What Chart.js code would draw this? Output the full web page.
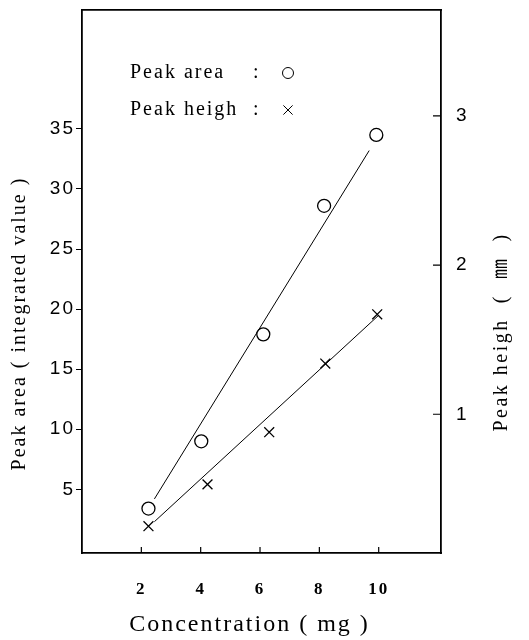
<!DOCTYPE html>
<html>
<head>
<meta charset="utf-8">
<script src="https://cdn.jsdelivr.net/npm/chart.js@4.4.1/dist/chart.umd.min.js"></script>
<style>
  body { margin: 0; background: #fff; }
  #wrap { width: 529px; height: 640px; }
</style>
</head>
<body>
<div id="wrap"><canvas id="peakChart"></canvas></div>
<script>
// concentration (mg) and measured values
var concArea = [2.24, 4.02, 6.11, 8.16, 9.92];
var peakArea = [3.4, 9.0, 17.9, 28.6, 34.5];
var concHeigh = [2.24, 4.23, 6.31, 8.2, 9.95];
var peakHeigh = [0.25, 0.53, 0.88, 1.34, 1.67];

// drawn regression lines (end points)
var areaFitX = [2.44, 9.68];
var areaFitY = [4.2, 33.2];
var heighFitX = [2.44, 9.98];
var heighFitY = [0.28, 1.66];

// tick labels
var xTicks = [2, 4, 6, 8, 10];
var areaTicks = [5, 10, 15, 20, 25, 30, 35];
var heighTicks = [1, 2, 3];

var serif = "'Liberation Serif', 'DejaVu Serif', 'Noto Sans CJK JP', serif";
var sans = "'Liberation Sans', 'DejaVu Sans', sans-serif";

function pts(xs, ys) {
    return xs.map(function (x, i) { return { x: x, y: ys[i] }; });
}

var data = {
    datasets: [
        {
            label: 'Peak area',
            data: pts(concArea, peakArea),
            yAxisID: 'y',
            showLine: false,
            pointStyle: 'circle',
            pointRadius: 6.5,
            pointBorderWidth: 1.3,
            pointBorderColor: '#000',
            pointBackgroundColor: '#fff'
        },
        {
            label: 'area fit',
            data: pts(areaFitX, areaFitY),
            yAxisID: 'y',
            borderColor: '#000',
            borderWidth: 1,
            pointRadius: 0
        },
        {
            label: 'Peak heigh',
            data: pts(concHeigh, peakHeigh),
            yAxisID: 'y1',
            showLine: false,
            pointStyle: 'crossRot',
            pointRadius: 7,
            pointBorderWidth: 1.3,
            pointBorderColor: '#000'
        },
        {
            label: 'heigh fit',
            data: pts(heighFitX, heighFitY),
            yAxisID: 'y1',
            borderColor: '#000',
            borderWidth: 1,
            pointRadius: 0
        }
    ]
};

// typewriter-like spacing for all the text of the figure
var spacing = {
    id: 'spacing',
    beforeDraw: function (chart) { chart.ctx.letterSpacing = '2px'; },
    afterDraw: function (chart) { chart.ctx.letterSpacing = '0px'; }
};

// legend written inside the plot: "Peak area  :  o"
var innerLegend = {
    id: 'innerLegend',
    afterDatasetsDraw: function (chart) {
        var ctx = chart.ctx;
        var rows = [0, 2];
        ctx.save();
        ctx.strokeStyle = '#000';
        ctx.font = '20px ' + serif;
        ctx.textBaseline = 'middle';
        rows.forEach(function (di, i) {
            var ds = chart.data.datasets[di];
            var y = 73 + i * 37;
            ctx.fillStyle = '#000';
            ctx.fillText(ds.label, 130, y);
            ctx.fillText(':', 253, y);
            ctx.fillStyle = '#fff';
            Chart.helpers.drawPoint(ctx, {
                pointStyle: ds.pointStyle,
                radius: ds.pointStyle === 'circle' ? 5.5 : 6.5,
                rotation: 0,
                borderWidth: 1.3
            }, 288, y);
        });
        ctx.restore();
    }
};

// short ticks pointing into the plot (bottom and right axes) and the right title
var rightSide = {
    id: 'rightSide',
    afterDraw: function (chart) {
        var ctx = chart.ctx;
        var x = chart.scales.x, y1 = chart.scales.y1, area = chart.chartArea;
        ctx.save();
        ctx.strokeStyle = '#000';
        ctx.lineWidth = 1.2;
        ctx.beginPath();
        xTicks.forEach(function (v) {
            var px = x.getPixelForValue(v);
            ctx.moveTo(px, area.bottom);
            ctx.lineTo(px, area.bottom - 6);
        });
        heighTicks.forEach(function (v) {
            var py = y1.getPixelForValue(v);
            ctx.moveTo(area.right, py);
            ctx.lineTo(area.right - 8, py);
        });
        ctx.stroke();
        // right axis title reads bottom to top like the left one
        ctx.translate(502, 332);
        ctx.rotate(-Math.PI / 2);
        ctx.fillStyle = '#000';
        ctx.letterSpacing = '2.5px';
        ctx.font = '20px ' + serif;
        ctx.textAlign = 'center';
        ctx.textBaseline = 'middle';
        ctx.fillText('Peak heigh  (  ㎜  )', 0, 0);
        ctx.restore();
    }
};

function noPad(s) { s.paddingTop = 0; s.paddingBottom = 0; }

var opciones = {
    responsive: true,
    maintainAspectRatio: false,
    animation: false,
    layout: { padding: 0 },
    plugins: {
        legend: { display: false },
        tooltip: { enabled: false }
    },
    scales: {
        x: {
            type: 'linear',
            position: 'bottom',
            min: 0,
            max: 12.1,
            afterBuildTicks: function (s) { s.ticks = xTicks.map(function (v) { return { value: v }; }); },
            afterFit: function (s) { s.height = 87; s.paddingLeft = 0; s.paddingRight = 0; },
            grid: { drawOnChartArea: false, drawTicks: false },
            border: { color: '#000', width: 1.8 },
            ticks: { color: '#000', font: { family: serif, size: 17, weight: 'bold' }, padding: 26, maxRotation: 0 },
            title: {
                display: true,
                text: 'Concentration ( mg )   ',
                color: '#000',
                font: { family: serif, size: 24 },
                padding: { top: 0, bottom: 1 }
            }
        },
        xTop: {
            type: 'linear',
            position: 'top',
            afterFit: function (s) { s.height = 10; },
            grid: { drawOnChartArea: false, drawTicks: false },
            border: { color: '#000', width: 1.8 },
            ticks: { display: false }
        },
        y: {
            type: 'linear',
            position: 'left',
            min: -0.3,
            max: 44.9,
            afterBuildTicks: function (s) { s.ticks = areaTicks.map(function (v) { return { value: v }; }); },
            afterFit: function (s) { s.width = 82; noPad(s); },
            grid: { drawOnChartArea: false, tickLength: 6, color: '#000' },
            border: { color: '#000', width: 1.8 },
            ticks: { color: '#000', font: { family: sans, size: 19 }, padding: 1 },
            title: {
                display: true,
                text: 'Peak area ( integrated value )            ',
                color: '#000',
                font: { family: serif, size: 20 },
                padding: { top: 8, bottom: 0 }
            }
        },
        y1: {
            type: 'linear',
            position: 'right',
            min: 0.07,
            max: 3.71,
            afterBuildTicks: function (s) { s.ticks = heighTicks.map(function (v) { return { value: v }; }); },
            afterFit: function (s) { s.width = 88; noPad(s); },
            grid: { drawOnChartArea: false, drawTicks: false },
            border: { color: '#000', width: 1.8 },
            ticks: { color: '#000', font: { family: sans, size: 19 }, padding: 15 }
        }
    }
};

var contextoPeak = document.getElementById('peakChart').getContext('2d');

var grafico = new Chart(contextoPeak, {
    type: 'line',
    data: data,
    options: opciones,
    plugins: [spacing, innerLegend, rightSide]
});
</script>
</body>
</html>
